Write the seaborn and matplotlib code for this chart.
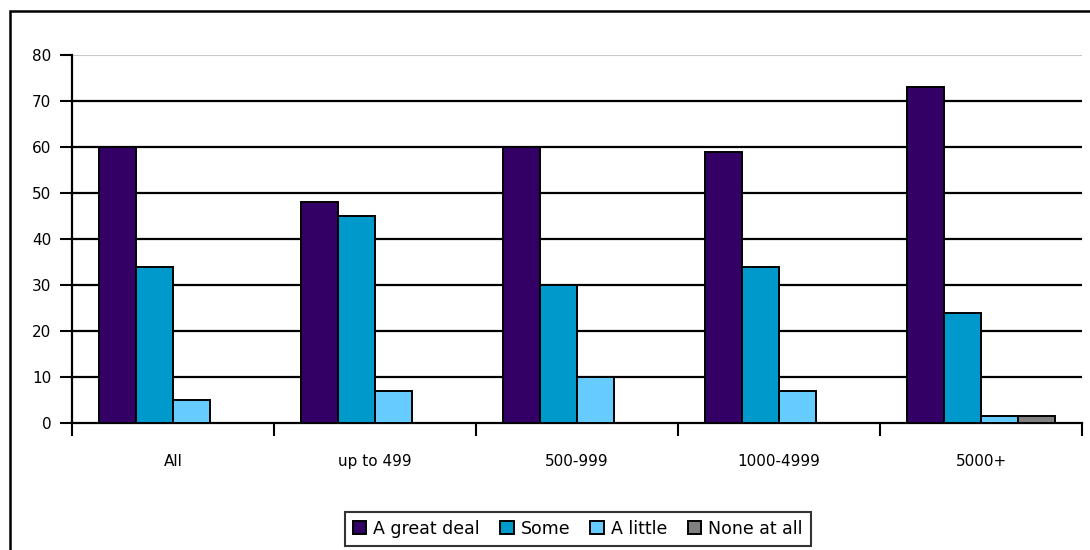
import pandas as pd
import numpy as np
import matplotlib
matplotlib.use("Agg")
import matplotlib.pyplot as plt
import seaborn as sns
from matplotlib.patches import Rectangle

# data
groups = ["All", "up to 499", "500-999", "1000-4999", "5000+"]
series = ["A great deal", "Some", "A little", "None at all"]
great_deal = [60, 48, 60, 59, 73]
some = [34, 45, 30, 34, 24]
a_little = [5, 7, 10, 7, 1.5]
none_at_all = [0, 0, 0, 0, 1.5]
colors = ["#330066", "#0099cc", "#66ccff", "#808080"]

rows = []
for name, vals in zip(series, [great_deal, some, a_little, none_at_all]):
    for g, v in zip(groups, vals):
        rows.append({"group": g, "series": name, "value": v})
df = pd.DataFrame(rows)

sns.set_style("white")
plt.rcParams["font.family"] = ["DejaVu Sans"]
plt.rcParams["text.color"] = "black"
plt.rcParams["xtick.color"] = "black"
plt.rcParams["ytick.color"] = "black"

fig = plt.figure(figsize=(10.9, 5.5), dpi=100)
ax = fig.add_axes([0.0661, 0.2309, 0.9266, 0.6691])

sns.barplot(data=df, x="group", y="value", hue="series", order=groups,
            hue_order=series, palette=colors, width=0.73, gap=0,
            edgecolor="black", linewidth=1.4, saturation=1, ax=ax, zorder=3)

ax.set_ylim(0, 80)
ax.set_xlim(-0.5, 4.5)
ax.set_yticks(range(0, 90, 10))
for y in range(10, 80, 10):
    ax.axhline(y, color="black", lw=1.6, zorder=1)
ax.axhline(80, color="#c8c8c8", lw=1.5, zorder=1)

ax.set_xticks(range(len(groups)))
ax.set_xticklabels(groups)
ax.set_xticks(np.arange(-0.5, 5, 1), minor=True)
ax.tick_params(axis="x", which="major", length=0, pad=22, labelsize=11)
ax.tick_params(axis="x", which="minor", length=9, width=1.5, color="black",
               direction="out", bottom=True)
ax.tick_params(axis="y", length=9, width=1.5, color="black", direction="out",
               left=True, labelsize=11, pad=6)
ax.set_xlabel("")
ax.set_ylabel("")

for s in ["top", "right"]:
    ax.spines[s].set_visible(False)
for s in ["left", "bottom"]:
    ax.spines[s].set_color("black")
    ax.spines[s].set_linewidth(1.6)

handles, labels = ax.get_legend_handles_labels()
ax.legend_.remove()
leg = fig.legend(handles, labels, loc="center", bbox_to_anchor=(0.53, 0.0385),
                 ncol=4, frameon=True, fancybox=False, fontsize=12.5,
                 handlelength=0.8, handleheight=0.8, handletextpad=0.4,
                 columnspacing=1.15, borderpad=0.45)
leg.get_frame().set_edgecolor("black")
leg.get_frame().set_linewidth(1.5)

# outer chart frame
fig.patches.append(Rectangle((10 / 1090, -0.05), 1.2, 1 - 11 / 550 + 0.05,
                             transform=fig.transFigure, fill=False,
                             edgecolor="black", lw=1.8))

fig.savefig("out.png", dpi=100)
